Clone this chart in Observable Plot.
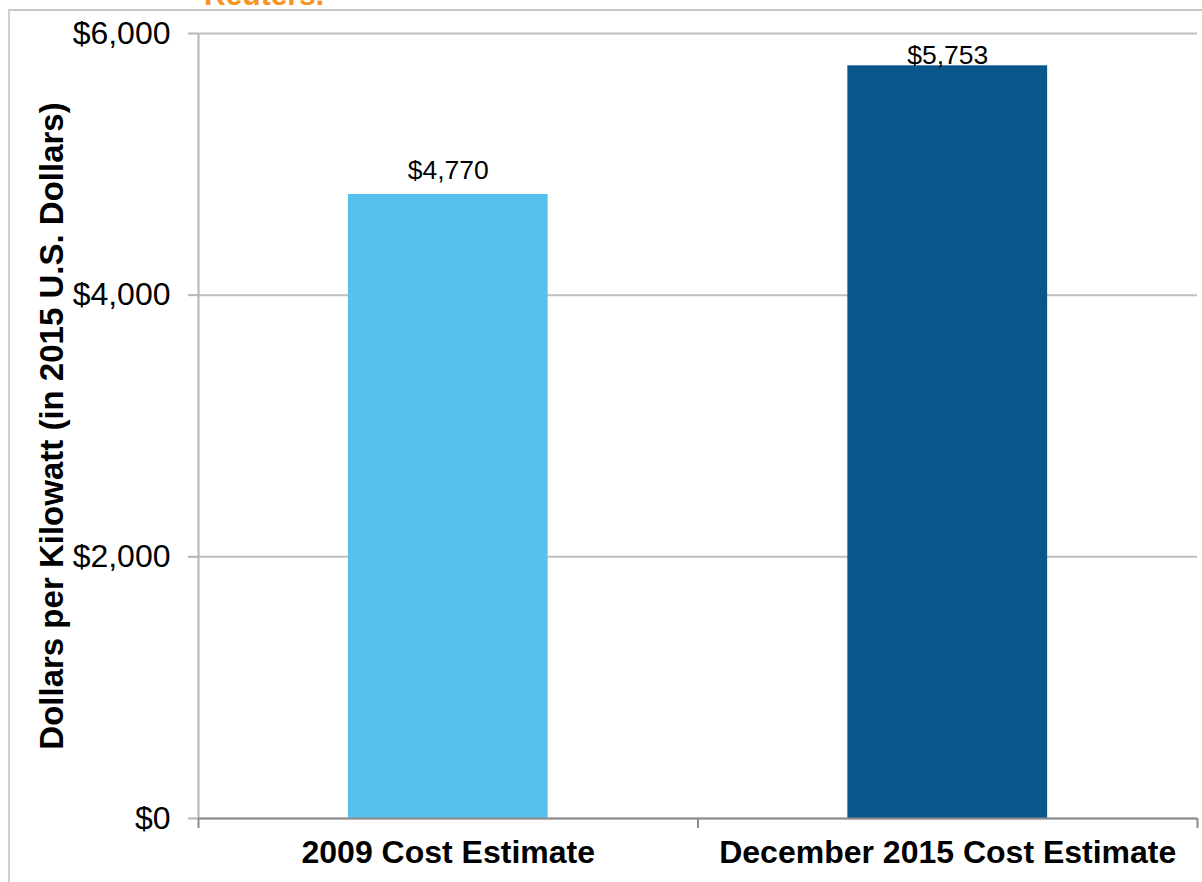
<!DOCTYPE html>
<html>
<head>
<meta charset="utf-8">
<script src="https://cdn.jsdelivr.net/npm/d3@7"></script>
<script src="https://cdn.jsdelivr.net/npm/@observablehq/plot@0.6"></script>
<style>
  html, body { margin: 0; padding: 0; background: #fff; overflow: hidden; }
  #wrap { position: relative; width: 1202px; height: 882px; overflow: hidden; font-family: "Liberation Sans", Arial, sans-serif; }
  #frame { position: absolute; left: 8px; top: 9px; width: 1300px; height: 1000px; border-left: 2px solid #d0d0d0; border-top: 2px solid #c8c8c8; box-sizing: border-box; }
  #note { position: absolute; left: 204px; top: -22px; color: #f7941d; font-weight: bold; font-size: 30px; white-space: nowrap; }
  #chart { position: absolute; left: 0; top: 0; }
</style>
</head>
<body>
<div id="wrap">
  <div id="frame"></div>
  <div id="note">Reuters.</div>
  <div id="chart"></div>
</div>
<script>
const categories = ["2009 Cost Estimate", "December 2015 Cost Estimate"];
const values = [4770, 5753];
const colors = ["#56c0ee", "#08568c"];
const yTicks = [0, 2000, 4000, 6000];
const yLabel = "Dollars per Kilowatt (in 2015 U.S. Dollars)";

const data = categories.map((c, i) => ({i, category: c, value: values[i], color: colors[i]}));
const fmt = v => "$" + d3.format(",")(v);

const chart = Plot.plot({
  width: 1202,
  height: 882,
  marginLeft: 198,
  marginRight: 5,
  marginTop: 33,
  marginBottom: 64,
  style: {fontFamily: "'Liberation Sans', Arial, sans-serif", background: "transparent", overflow: "visible"},
  x: {type: "linear", domain: [0, categories.length], axis: null, label: null},
  y: {domain: [0, 6000], axis: null, label: null},
  marks: [
    Plot.gridY(yTicks, {stroke: "#bfbfbf", strokeOpacity: 1, strokeWidth: 2}),
    Plot.rectY(data, {x1: d => d.i + 0.3, x2: d => d.i + 0.7, y1: 0, y2: "value", fill: "color"}),
    Plot.ruleX([0], {stroke: "#b5b5b5", strokeWidth: 2}),
    Plot.ruleY([0], {stroke: "#8c8c8c", strokeWidth: 2}),
    Plot.axisY(yTicks, {label: null, tickSize: 10, stroke: "#b5b5b5", strokeWidth: 2, tickPadding: 18, fontSize: 32, fill: "#000", tickFormat: fmt}),
    Plot.axisX([0, 1, 2], {label: null, tickSize: 10, stroke: "#8c8c8c", strokeWidth: 2, tickFormat: () => ""}),
    Plot.axisX(data.map(d => d.i + 0.5), {label: null, tickSize: 0, tickPadding: 22, fontSize: 32, fontWeight: "bold", fill: "#000", tickFormat: v => categories[Math.floor(v)]}),
    Plot.text(data, {x: d => d.i + 0.5, y: d => Math.min(d.value + 183, 5832), text: d => fmt(d.value), fontSize: 26.5, fill: "#000"}),
    Plot.text([yLabel], {frameAnchor: "left", dx: -146, rotate: -90, textAnchor: "middle", fontSize: 33, fontWeight: "bold", fill: "#000"})
  ]
});
document.getElementById("chart").appendChild(chart);
</script>
</body>
</html>
